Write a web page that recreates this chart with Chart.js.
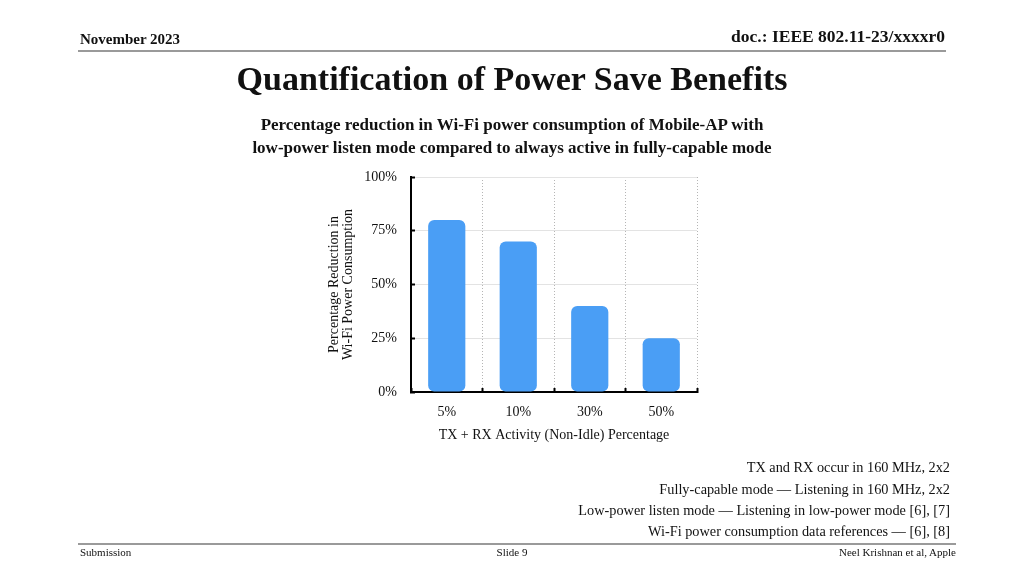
<!DOCTYPE html>
<html>
<head>
<meta charset="utf-8">
<script src="https://cdn.jsdelivr.net/npm/chart.js@4.4.0/dist/chart.umd.min.js"></script>
<style>
  html, body { margin:0; padding:0; background:#fff; }
  #page { position:relative; width:1024px; height:576px; overflow:hidden; background:#fff; font-family:'Liberation Serif','Times New Roman',serif; color:#111; }
  #c { position:absolute; left:0; top:0; }
  .t { position:absolute; white-space:nowrap; line-height:1; }
  .hr { position:absolute; height:0; border-top:2px solid #9a9a9a; }
</style>
</head>
<body>
<div id="page">
  <canvas id="c" width="1024" height="576"></canvas>
  <div class="t" style="left:80px; top:32px; font-size:15px; font-weight:bold;">November 2023</div>
  <div class="t" style="right:79px; top:28px; font-size:17.5px; font-weight:bold;">doc.: IEEE 802.11-23/xxxxr0</div>
  <div class="hr" style="left:78px; width:868px; top:50px;"></div>
  <div class="t" style="left:0; width:1024px; text-align:center; top:62px; font-size:34px; font-weight:bold;">Quantification of Power Save Benefits</div>
  <div class="t" style="left:0; width:1024px; text-align:center; top:116px; font-size:17px; font-weight:bold;">Percentage reduction in Wi-Fi power consumption of Mobile-AP with</div>
  <div class="t" style="left:0; width:1024px; text-align:center; top:139px; font-size:17px; font-weight:bold;">low-power listen mode compared to always active in fully-capable mode</div>
  <div class="t" style="right:74px; top:460px; font-size:14.3px;">TX and RX occur in 160 MHz, 2x2</div>
  <div class="t" style="right:74px; top:482px; font-size:14.3px;">Fully-capable mode — Listening in 160 MHz, 2x2</div>
  <div class="t" style="right:74px; top:503px; font-size:14.3px;">Low-power listen mode — Listening in low-power mode [6], [7]</div>
  <div class="t" style="right:74px; top:524px; font-size:14.3px;">Wi-Fi power consumption data references — [6], [8]</div>
  <div class="hr" style="left:78px; width:878px; top:543px;"></div>
  <div class="t" style="left:80px; top:547px; font-size:11px;">Submission</div>
  <div class="t" style="left:0; width:1024px; text-align:center; top:547px; font-size:11px;">Slide 9</div>
  <div class="t" style="right:68px; top:547px; font-size:11px;">Neel Krishnan et al, Apple</div>
</div>
<script>
const categories = ['5%', '10%', '30%', '50%'];
const reduction = [80, 70, 40, 25];
const yTickValues = [0, 25, 50, 75, 100];
const yTitle = ['Percentage Reduction in', 'Wi-Fi Power Consumption'];
const xTitle = 'TX + RX Activity (Non-Idle) Percentage';

const serif = "'Liberation Serif', 'Times New Roman', serif";

new Chart(document.getElementById('c'), {
  type: 'bar',
  data: {
    labels: categories,
    datasets: [{
      data: reduction,
      backgroundColor: '#4a9ef5',
      borderRadius: 6,
      borderSkipped: false,
      categoryPercentage: 1,
      barPercentage: 0.52
    }]
  },
  options: {
    responsive: false,
    devicePixelRatio: 1,
    animation: false,
    layout: { padding: { left: 311, right: 327, top: 177, bottom: 124 } },
    plugins: { legend: { display: false }, tooltip: { enabled: false } },
    scales: {
      x: {
        afterFit: s => { s.height = 60; },
        grid: { offset: true, color: '#b5b5b5', lineWidth: 1, tickColor: '#000', tickLength: -4, tickWidth: 2 },
        border: { color: '#000', width: 2, dash: [1, 2] },
        ticks: { color: '#111', padding: 16, font: { family: serif, size: 14 } },
        title: { display: true, text: xTitle, color: '#111', font: { family: serif, size: 14 }, padding: { top: 0, bottom: 8 } }
      },
      y: {
        min: 0, max: 100,
        afterFit: s => { s.width = 100; },
        afterBuildTicks: s => { s.ticks = yTickValues.map(v => ({ value: v })); },
        grid: { color: '#e3e3e3', lineWidth: 1, tickColor: '#000', tickLength: -4, tickWidth: 2 },
        border: { color: '#000', width: 2 },
        ticks: { color: '#111', padding: 18, font: { family: serif, size: 14 }, callback: v => v + '%' },
        title: { display: true, text: yTitle, color: '#111', font: { family: serif, size: 14, lineHeight: 1.0 }, padding: { top: 16 } }
      }
    }
  }
});
</script>
</body>
</html>
